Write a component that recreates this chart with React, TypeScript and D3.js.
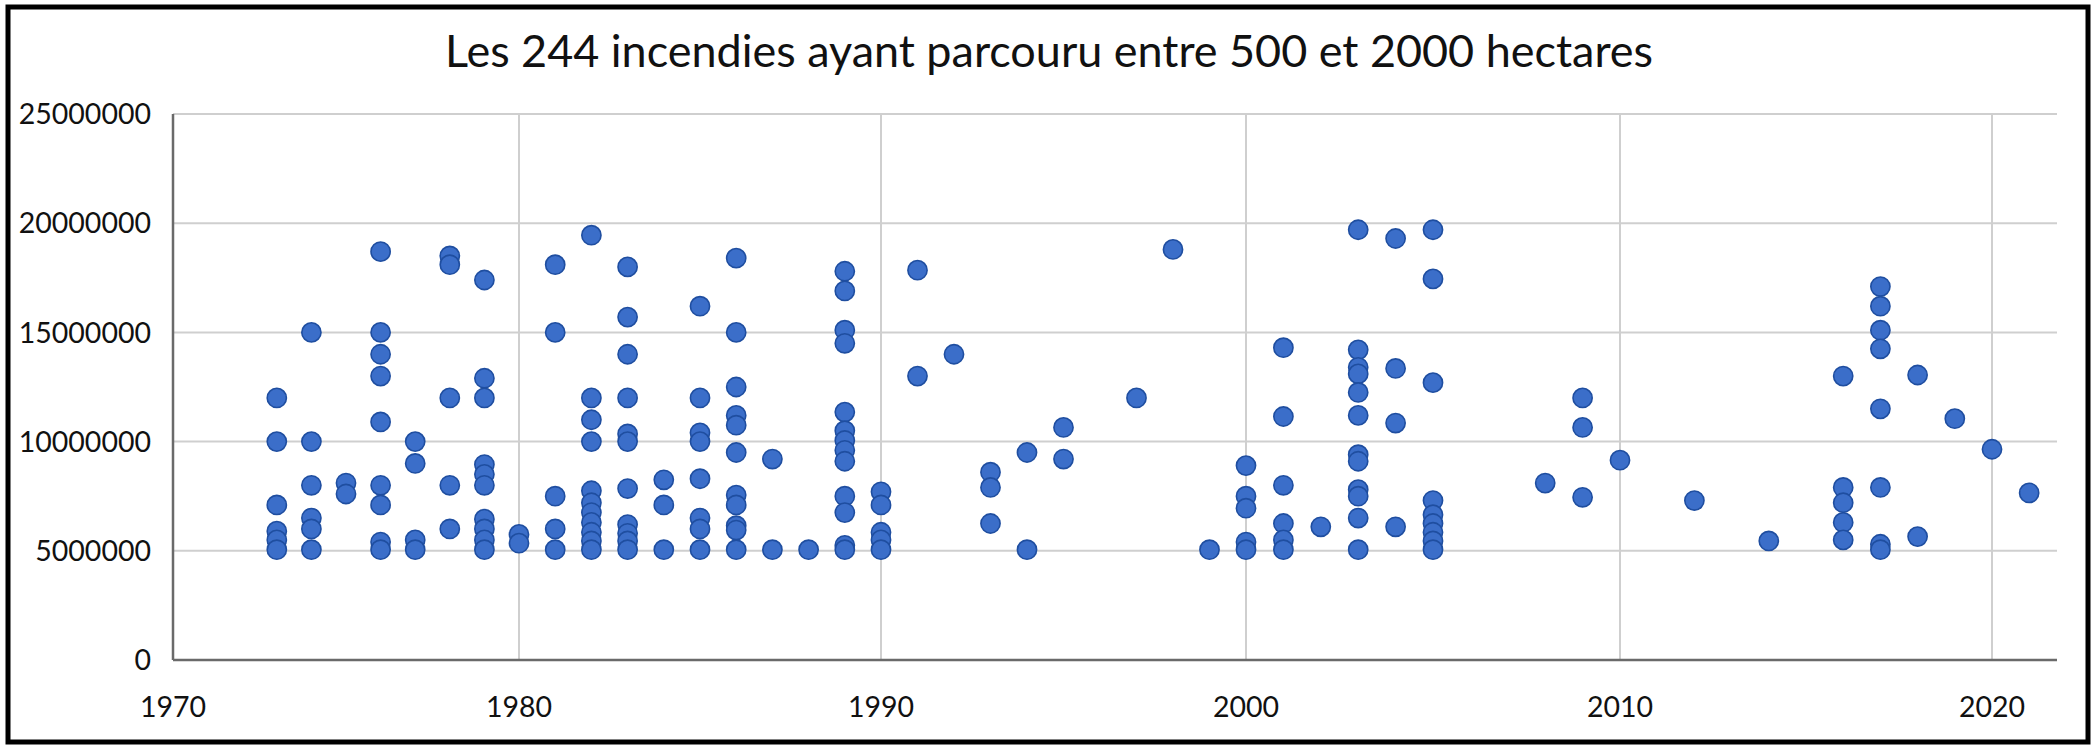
import React from "react";
import * as d3 from "d3";

const TITLE = "Les 244 incendies ayant parcouru entre 500 et 2000 hectares";

const xTicks = [1970, 1980, 1990, 2000, 2010, 2020];
const yTicks = [0, 5000000, 10000000, 15000000, 20000000, 25000000];

// Fires per year: surface (m²), in millions
const years1970s = [1973, 1974, 1975, 1976, 1977, 1978, 1979];
const areas1970s = [
  [12.0, 10.0, 7.1, 5.9, 5.5, 5.05],
  [15.0, 10.0, 8.0, 6.5, 6.0, 5.05],
  [8.1, 7.6],
  [18.7, 15.0, 14.0, 13.0, 10.9, 8.0, 7.1, 5.4, 5.05],
  [10.0, 9.0, 5.5, 5.05],
  [18.5, 18.1, 12.0, 8.0, 6.0],
  [17.4, 12.9, 12.0, 8.95, 8.5, 8.0, 6.45, 6.0, 5.5, 5.05],
];

const years1980s = [1980, 1981, 1982, 1983, 1984, 1985, 1986, 1987, 1988, 1989];
const areas1980s = [
  [5.75, 5.35],
  [18.1, 15.0, 7.5, 6.0, 5.05],
  [19.45, 12.0, 11.0, 10.0, 7.75, 7.2, 6.75, 6.3, 5.85, 5.45, 5.05],
  [18.0, 15.7, 14.0, 12.0, 10.35, 10.0, 7.85, 6.2, 5.8, 5.45, 5.05],
  [8.25, 7.1, 5.05],
  [16.2, 12.0, 10.4, 10.0, 8.3, 6.5, 6.0, 5.05],
  [18.4, 15.0, 12.5, 11.2, 10.75, 9.5, 7.55, 7.1, 6.15, 5.95, 5.05],
  [9.2, 5.05],
  [5.05],
  [17.8, 16.9, 15.1, 14.5, 11.35, 10.5, 10.05, 9.6, 9.1, 7.5, 6.75, 5.25, 5.05],
];

const years1990s = [1990, 1991, 1992, 1993, 1994, 1995, 1997, 1998, 1999];
const areas1990s = [
  [7.7, 7.1, 5.85, 5.5, 5.05],
  [17.85, 13.0],
  [14.0],
  [8.6, 7.9, 6.25],
  [9.5, 5.05],
  [10.65, 9.2],
  [12.0],
  [18.8],
  [5.05],
];

const years2000s = [2000, 2001, 2002, 2003, 2004, 2005, 2008, 2009];
const areas2000s = [
  [8.9, 7.5, 6.95, 5.4, 5.05],
  [14.3, 11.15, 8.0, 6.25, 5.5, 5.05],
  [6.1],
  [19.7, 14.2, 13.4, 13.1, 12.25, 11.2, 9.4, 9.1, 7.8, 7.5, 6.5, 5.05],
  [19.3, 13.35, 10.85, 6.1],
  [19.7, 17.45, 12.7, 7.3, 6.65, 6.25, 5.85, 5.45, 5.05],
  [8.1],
  [12.0, 10.65, 7.45],
];

const years2010s = [2010, 2012, 2014, 2016, 2017, 2018, 2019, 2020, 2021];
const areas2010s = [
  [9.15],
  [7.3],
  [5.45],
  [13.0, 7.9, 7.2, 6.3, 5.5],
  [17.1, 16.2, 15.1, 14.25, 11.5, 7.9, 5.3, 5.05],
  [13.05, 5.65],
  [11.05],
  [9.65],
  [7.65],
];

const allYears = [...years1970s, ...years1980s, ...years1990s, ...years2000s, ...years2010s];
const allAreas = [...areas1970s, ...areas1980s, ...areas1990s, ...areas2000s, ...areas2010s];

const points: { year: number; value: number }[] = [];
allYears.forEach((yr, i) => {
  allAreas[i].forEach((m) => points.push({ year: yr, value: m * 1e6 }));
});

const W = 2095;
const H = 750;
const FONT = "Lato, 'Open Sans', sans-serif";

export default function App() {
  // the source picture's horizontal axis is slightly unevenly stretched; a polylinear scale follows it
  const x = d3
    .scaleLinear()
    .domain([1970, 1980, 1990, 2000, 2010, 2020, 2021.75])
    .range([173, 519, 881, 1246, 1620, 1992, 2057]);
  const y = d3.scaleLinear().domain([0, 25000000]).range([660, 114]);
  const x0 = x(1970);
  const x1 = x(2021.75);

  return (
    <svg
      width={W}
      height={H}
      style={{ position: "absolute", left: 0, top: 0, background: "#ffffff" }}
      fontFamily={FONT}
    >
      <rect x={0} y={0} width={W} height={H} fill="#ffffff" />
      {/* horizontal gridlines */}
      {yTicks.slice(1).map((t) => (
        <line key={"hg" + t} x1={x0} x2={x1} y1={y(t)} y2={y(t)} stroke="#cfcfcf" strokeWidth={2} />
      ))}
      {/* vertical gridlines */}
      {xTicks.slice(1).map((t) => (
        <line key={"vg" + t} x1={x(t)} x2={x(t)} y1={y(25000000)} y2={y(0)} stroke="#cfcfcf" strokeWidth={2} />
      ))}
      {/* axes */}
      <line x1={x0} x2={x0} y1={y(25000000)} y2={y(0)} stroke="#6a6a6a" strokeWidth={2.5} />
      <line x1={x0} x2={x1} y1={y(0)} y2={y(0)} stroke="#6a6a6a" strokeWidth={2.5} />

      {/* y tick labels */}
      {yTicks.map((t) => (
        <text key={"yl" + t} x={x0 - 22} y={y(t)} dy="0.36em" textAnchor="end" fontSize={28.5} fill="#111">
          {String(t)}
        </text>
      ))}
      {/* x tick labels */}
      {xTicks.map((t) => (
        <text key={"xl" + t} x={x(t)} y={717} textAnchor="middle" fontSize={28.5} fill="#111">
          {String(t)}
        </text>
      ))}

      {/* points */}
      {points.map((p, i) => (
        <circle
          key={i}
          cx={x(p.year)}
          cy={y(p.value)}
          r={9.6}
          fill="#3b6ec9"
          stroke="#1f4ea0"
          strokeWidth={1.6}
        />
      ))}

      {/* title */}
      <text
        x={1049}
        y={67}
        textAnchor="middle"
        fontSize={45}
        fill="#111"
        textLength={1208}
        lengthAdjust="spacingAndGlyphs"
      >
        {TITLE}
      </text>

      {/* frame */}
      <rect x={8} y={7} width={2080} height={735} fill="none" stroke="#000" strokeWidth={5} />
    </svg>
  );
}
